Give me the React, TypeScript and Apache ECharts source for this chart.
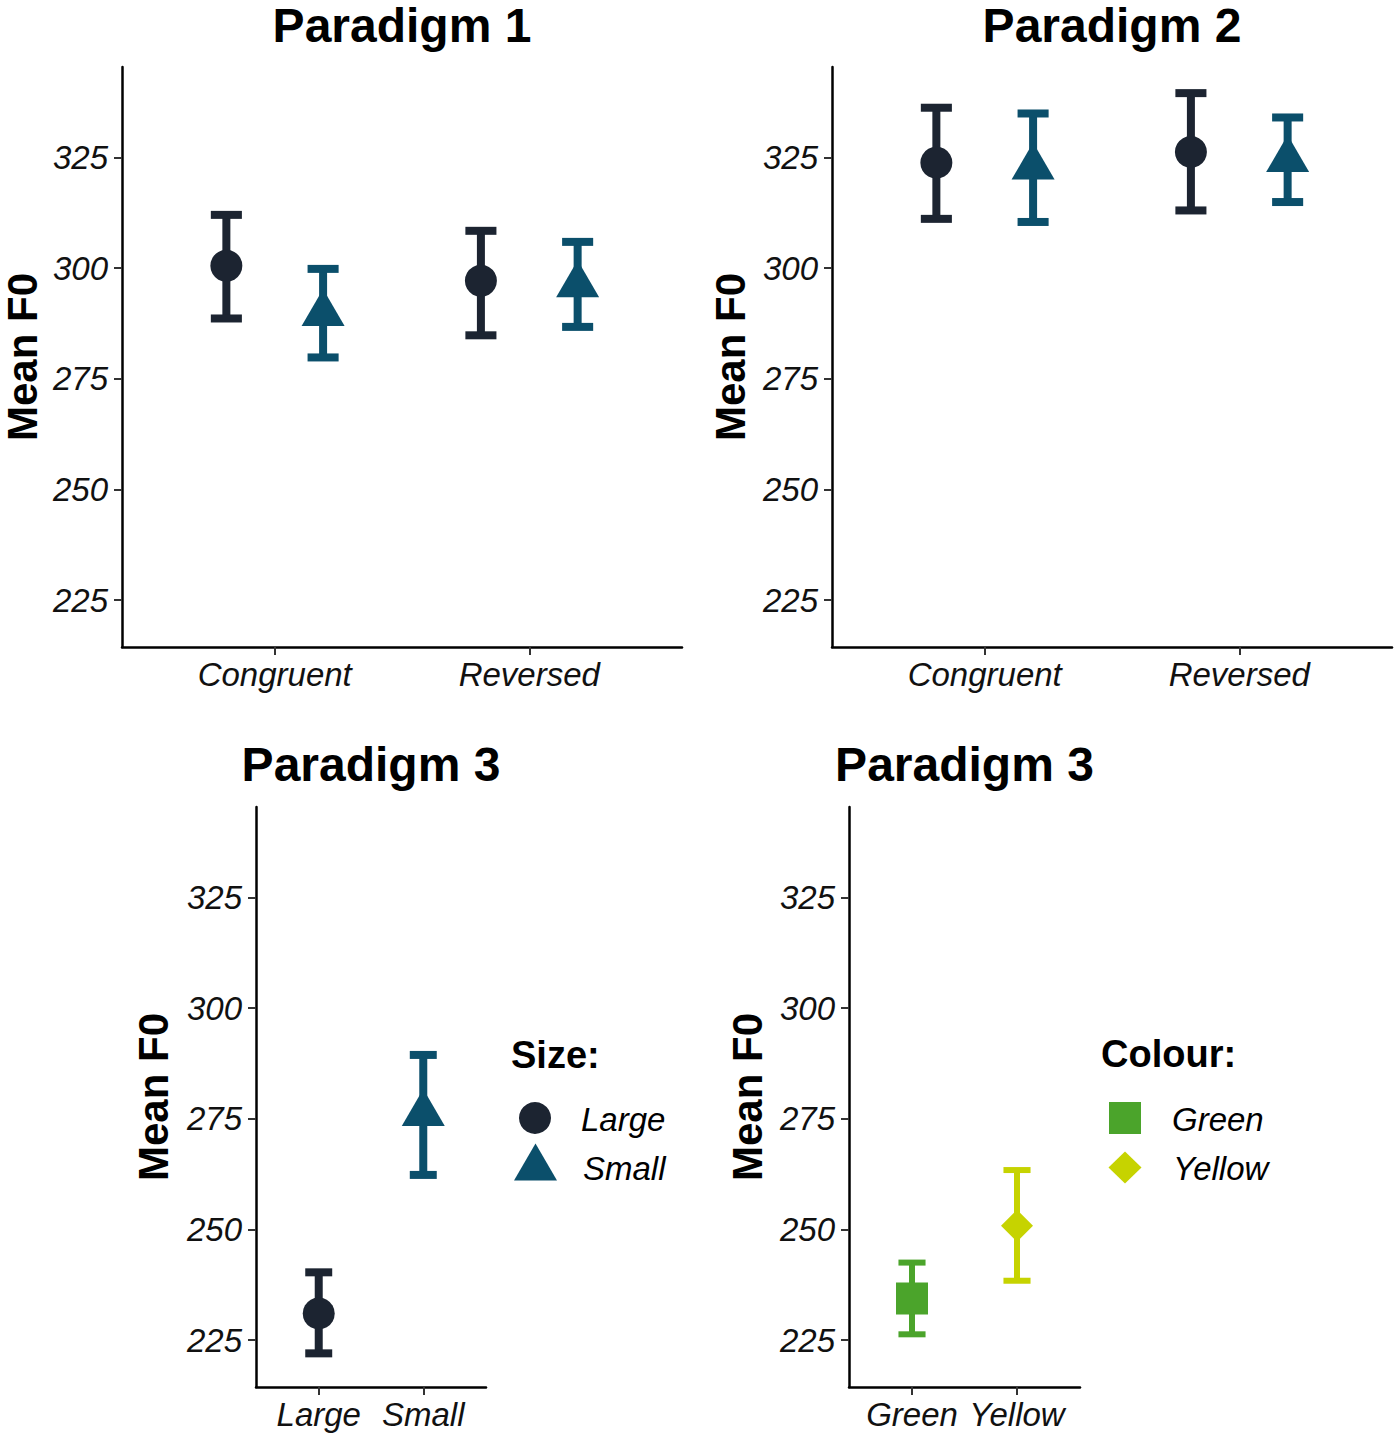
import React, { useEffect, useRef } from 'react';
import * as echarts from 'echarts';

// ---------- data ----------
const P1_CATEGORIES = ['Congruent', 'Reversed'];
const P1_LARGE_MEAN = [300.5, 297.1];
const P1_LARGE_LO = [288.6, 284.8];
const P1_LARGE_HI = [312.0, 308.4];
const P1_SMALL_MEAN = [289.7, 296.2];
const P1_SMALL_LO = [279.8, 286.7];
const P1_SMALL_HI = [299.8, 305.9];

const P2_CATEGORIES = ['Congruent', 'Reversed'];
const P2_LARGE_MEAN = [323.8, 326.2];
const P2_LARGE_LO = [311.1, 313.0];
const P2_LARGE_HI = [336.2, 339.5];
const P2_SMALL_MEAN = [322.8, 324.5];
const P2_SMALL_LO = [310.4, 314.9];
const P2_SMALL_HI = [334.9, 334.0];

const P3_CATEGORIES = ['Large', 'Small'];
const P3_MEAN = [231.0, 276.2];
const P3_LO = [222.0, 262.3];
const P3_HI = [240.3, 289.4];

const P4_CATEGORIES = ['Green', 'Yellow'];
const P4_MEAN = [234.4, 250.8];
const P4_LO = [226.3, 238.4];
const P4_HI = [242.5, 263.4];

const Y_TICKS = [225, 250, 275, 300, 325];
const PANEL_TITLES = ['Paradigm 1', 'Paradigm 2', 'Paradigm 3', 'Paradigm 3'];
const SIZE_LEGEND_TITLE = 'Size:';
const SIZE_LEVELS = ['Large', 'Small'];
const COLOUR_LEGEND_TITLE = 'Colour:';
const COLOUR_LEVELS = ['Green', 'Yellow'];
const Y_NAME = 'Mean F0';

// ---------- style ----------
const NAVY = '#1c2431';
const TEAL = '#0b4f6b';
const GREEN = '#4ba42b';
const YELLOW = '#c6d300';
const FONT = 'Liberation Sans, Arial, sans-serif';
const DODGE = 0.19;
const Y_MIN = 214.4;
const Y_MAX = 345.4;

const GRIDS = [
  { left: 122, top: 67, width: 560, height: 580 },
  { left: 832, top: 67, width: 560, height: 580 },
  { left: 256, top: 807, width: 230, height: 580 },
  { left: 849, top: 807, width: 231, height: 580 },
];
const NAME_GAPS = [79, 81, 82, 81];

function points(cats: string[], mean: number[], offset: number) {
  return cats.map((_, i) => [i + 1 + offset, mean[i]]);
}
function bars(cats: string[], lo: number[], hi: number[], offset: number) {
  return cats.map((_, i) => [i + 1 + offset, lo[i], hi[i]]);
}

function errorSeries(g: number, data: number[][], color: string | string[], capW: number, lw: number) {
  return {
    type: 'custom',
    xAxisIndex: g,
    yAxisIndex: g,
    data,
    encode: { x: 0, y: [1, 2] },
    z: 2,
    silent: true,
    renderItem: (params: any, api: any) => {
      const x = api.value(0);
      const lo = api.value(1);
      const hi = api.value(2);
      const top = api.coord([x, hi]);
      const bot = api.coord([x, lo]);
      const half = api.size([capW, 0])[0] / 2;
      const c = Array.isArray(color) ? color[params.dataIndex] : color;
      const st = { stroke: c, lineWidth: lw, lineCap: 'butt' };
      return {
        type: 'group',
        children: [
          { type: 'line', shape: { x1: top[0], y1: top[1], x2: bot[0], y2: bot[1] }, style: st },
          { type: 'line', shape: { x1: top[0] - half, y1: top[1], x2: top[0] + half, y2: top[1] }, style: st },
          { type: 'line', shape: { x1: bot[0] - half, y1: bot[1], x2: bot[0] + half, y2: bot[1] }, style: st },
        ],
      };
    },
  };
}

function scatter(g: number, data: any[], symbol: string, size: any, color: string, offset: number[] = [0, 0]) {
  return {
    type: 'scatter',
    xAxisIndex: g,
    yAxisIndex: g,
    data,
    symbol,
    symbolSize: size,
    symbolOffset: offset,
    itemStyle: { color, opacity: 1 },
    z: 3,
    silent: true,
  };
}

function xAxis(g: number, cats: string[]) {
  return {
    type: 'value',
    gridIndex: g,
    min: 0.4,
    max: 2.6,
    axisLine: { show: true, onZero: false, lineStyle: { color: '#000', width: 2.5 } },
    axisTick: { show: true, customValues: [1, 2], length: 8, lineStyle: { color: '#333', width: 2 } },
    axisLabel: {
      customValues: [1, 2],
      formatter: (v: number) => cats[Math.round(v) - 1],
      fontSize: 33,
      fontStyle: 'italic',
      fontFamily: FONT,
      color: '#111',
      margin: 11,
    },
    splitLine: { show: false },
  };
}

function yAxis(g: number) {
  return {
    type: 'value',
    gridIndex: g,
    min: Y_MIN,
    max: Y_MAX,
    name: Y_NAME,
    nameLocation: 'middle',
    nameRotate: 90,
    nameGap: NAME_GAPS[g],
    nameTextStyle: { fontSize: 42, fontWeight: 'bold', fontFamily: FONT, color: '#000' },
    axisLine: { show: true, onZero: false, lineStyle: { color: '#000', width: 2.5 } },
    axisTick: { show: true, customValues: Y_TICKS, length: 8, lineStyle: { color: '#333', width: 2 } },
    axisLabel: {
      customValues: Y_TICKS,
      fontSize: 33,
      fontStyle: 'italic',
      fontFamily: FONT,
      color: '#111',
      margin: 14,
    },
    splitLine: { show: false },
  };
}

const TRI_SIZE = [43, 37];
const TRI_OFFSET = [0, -6];

export default function App() {
  const ref = useRef<HTMLDivElement>(null);
  useEffect(() => {
    document.body.style.margin = '0';
    if (!ref.current) return;
    const chart = echarts.init(ref.current, null, { renderer: 'svg' });

    const titles = PANEL_TITLES.map((t, i) => ({
      text: t,
      left: GRIDS[i].left + GRIDS[i].width / 2,
      top: i < 2 ? 3 : 742,
      textAlign: 'center',
      padding: 0,
      textStyle: { fontSize: 48, lineHeight: 44, fontWeight: 'bold', fontFamily: FONT, color: '#000' },
    }));

    const legendText = (text: string, x: number, y: number, bold: boolean) => ({
      type: 'text',
      x,
      y,
      style: {
        text,
        fill: '#000',
        font: bold ? `bold 38px ${FONT}` : `italic 33px ${FONT}`,
        textAlign: 'left',
        textVerticalAlign: 'middle',
      },
    });

    const option: any = {
      animation: false,
      backgroundColor: '#fff',
      title: titles,
      grid: GRIDS.map((g) => ({ ...g, containLabel: false, outerBoundsMode: 'none' })),
      xAxis: [xAxis(0, P1_CATEGORIES), xAxis(1, P2_CATEGORIES), xAxis(2, P3_CATEGORIES), xAxis(3, P4_CATEGORIES)],
      yAxis: [yAxis(0), yAxis(1), yAxis(2), yAxis(3)],
      series: [
        // Paradigm 1
        errorSeries(0, bars(P1_CATEGORIES, P1_LARGE_LO, P1_LARGE_HI, -DODGE), NAVY, 0.122, 8),
        errorSeries(0, bars(P1_CATEGORIES, P1_SMALL_LO, P1_SMALL_HI, DODGE), TEAL, 0.122, 8),
        scatter(0, points(P1_CATEGORIES, P1_LARGE_MEAN, -DODGE), 'circle', 32, NAVY),
        scatter(0, points(P1_CATEGORIES, P1_SMALL_MEAN, DODGE), 'triangle', TRI_SIZE, TEAL, TRI_OFFSET),
        // Paradigm 2
        errorSeries(1, bars(P2_CATEGORIES, P2_LARGE_LO, P2_LARGE_HI, -DODGE), NAVY, 0.122, 8),
        errorSeries(1, bars(P2_CATEGORIES, P2_SMALL_LO, P2_SMALL_HI, DODGE), TEAL, 0.122, 8),
        scatter(1, points(P2_CATEGORIES, P2_LARGE_MEAN, -DODGE), 'circle', 32, NAVY),
        scatter(1, points(P2_CATEGORIES, P2_SMALL_MEAN, DODGE), 'triangle', TRI_SIZE, TEAL, TRI_OFFSET),
        // Paradigm 3 (size)
        errorSeries(2, bars(P3_CATEGORIES, P3_LO, P3_HI, 0), [NAVY, TEAL], 0.258, 8),
        scatter(2, [points(P3_CATEGORIES, P3_MEAN, 0)[0]], 'circle', 32, NAVY),
        scatter(2, [points(P3_CATEGORIES, P3_MEAN, 0)[1]], 'triangle', TRI_SIZE, TEAL, TRI_OFFSET),
        // Paradigm 3 (colour)
        errorSeries(3, bars(P4_CATEGORIES, P4_LO, P4_HI, 0), [GREEN, YELLOW], 0.258, 6),
        scatter(3, [points(P4_CATEGORIES, P4_MEAN, 0)[0]], 'rect', 32, GREEN),
        scatter(3, [points(P4_CATEGORIES, P4_MEAN, 0)[1]], 'diamond', 32, YELLOW),
      ],
      graphic: [
        legendText(SIZE_LEGEND_TITLE, 511, 1055, true),
        { type: 'circle', shape: { cx: 535, cy: 1118, r: 16 }, style: { fill: NAVY } },
        {
          type: 'polygon',
          shape: { points: [[535.5, 1143.5], [557, 1180.5], [514, 1180.5]] },
          style: { fill: TEAL },
        },
        legendText(SIZE_LEVELS[0], 581, 1119, false),
        legendText(SIZE_LEVELS[1], 583, 1168, false),
        legendText(COLOUR_LEGEND_TITLE, 1101, 1054, true),
        { type: 'rect', shape: { x: 1109, y: 1102, width: 32, height: 32 }, style: { fill: GREEN } },
        {
          type: 'polygon',
          shape: { points: [[1125, 1151.5], [1141.5, 1167.5], [1125, 1183.5], [1108.5, 1167.5]] },
          style: { fill: YELLOW },
        },
        legendText(COLOUR_LEVELS[0], 1172, 1119, false),
        legendText(COLOUR_LEVELS[1], 1173, 1168, false),
      ],
    };
    chart.setOption(option);
    return () => chart.dispose();
  }, []);
  return <div ref={ref} style={{ width: 1400, height: 1438 }} />;
}
